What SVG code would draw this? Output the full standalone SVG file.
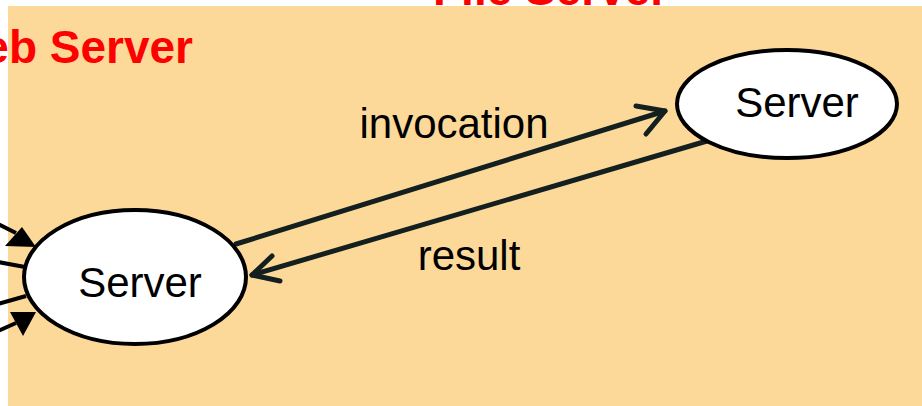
<svg xmlns="http://www.w3.org/2000/svg" width="922" height="406" viewBox="0 0 922 406">
<defs>
<style>
.bg{fill:#FDD999}
.title{font-family:"Liberation Sans",Arial,sans-serif;font-weight:bold;font-size:46px;fill:#FF0000}
.node{fill:#FFFFFF;stroke:#000000;stroke-width:4}
.label{font-family:"Liberation Sans",Arial,sans-serif;font-size:42px;fill:#000000}
.conn{fill:none;stroke:#13201F;stroke-width:5;stroke-linecap:round;stroke-linejoin:round}
.ext{fill:none;stroke:#000000;stroke-width:4}
.tri{fill:#000000}
</style>
</defs>
<rect width="922" height="406" fill="#FFFFFF"/>
<rect class="bg" x="8" y="6" width="914" height="400"/>
<text class="title" x="193" y="63" text-anchor="end">Web Server</text>
<text class="title" x="433" y="5">File Server</text>
<g id="external">
<line class="ext" x1="-2" y1="224" x2="16" y2="233"/>
<polygon class="tri" points="5,246 22,227 36,247"/>
<line class="ext" x1="-2" y1="262" x2="25" y2="267"/>
<line class="ext" x1="-2" y1="304" x2="26" y2="296"/>
<line class="ext" x1="-2" y1="331" x2="16" y2="323"/>
<polygon class="tri" points="10,312 36,312 23,336"/>
</g>
<g id="connectors">
<line class="conn" x1="236" y1="244" x2="665" y2="111"/>
<polyline class="conn" points="636,106 665,111 646,134"/>
<line class="conn" x1="707" y1="141" x2="252" y2="275"/>
<polyline class="conn" points="272,256 252,275 280,281"/>
</g>
<g id="web-server">
<ellipse class="node" cx="135" cy="277" rx="111" ry="67"/>
<text class="label" x="140" y="297" text-anchor="middle">Server</text>
</g>
<g id="file-server">
<ellipse class="node" cx="787" cy="104" rx="110" ry="54"/>
<text class="label" x="797" y="117" text-anchor="middle">Server</text>
</g>
<g id="labels">
<text class="label" x="454" y="138" text-anchor="middle">invocation</text>
<text class="label" x="469" y="270" text-anchor="middle">result</text>
</g>
</svg>
